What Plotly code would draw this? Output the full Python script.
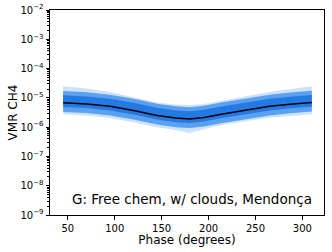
import numpy as np
import plotly.graph_objects as go

# Phase nodes (degrees)
phase = [45, 70, 95, 120, 145, 165, 180, 195, 215, 240, 265, 290, 310]

# log10 VMR CH4 values
log_median = [-5.17, -5.21, -5.29, -5.43, -5.60, -5.69, -5.72, -5.67, -5.55, -5.41, -5.29, -5.21, -5.16]
log_1s_hi = [-4.91, -4.95, -5.03, -5.17, -5.34, -5.43, -5.46, -5.41, -5.29, -5.15, -5.03, -4.95, -4.90]
log_1s_lo = [-5.31, -5.35, -5.43, -5.57, -5.74, -5.83, -5.86, -5.81, -5.69, -5.55, -5.43, -5.35, -5.30]
log_2s_hi = [-4.77, -4.81, -4.89, -5.03, -5.20, -5.29, -5.32, -5.27, -5.15, -5.01, -4.89, -4.81, -4.76]
log_2s_lo = [-5.48, -5.52, -5.60, -5.74, -5.91, -6.00, -6.03, -5.98, -5.86, -5.72, -5.60, -5.52, -5.47]
log_3s_hi = [-4.60, -4.68, -4.80, -4.97, -5.16, -5.23, -5.24, -5.21, -5.09, -4.93, -4.80, -4.69, -4.60]
log_3s_lo = [-5.56, -5.60, -5.69, -5.83, -6.00, -6.10, -6.21, -6.06, -5.93, -5.79, -5.68, -5.61, -5.56]

y_tick_vals = [1e-9, 1e-8, 1e-7, 1e-6, 1e-5, 1e-4, 1e-3, 1e-2]
y_tick_text = ["10<sup>\u22129</sup>", "10<sup>\u22128</sup>", "10<sup>\u22127</sup>", "10<sup>\u22126</sup>",
               "10<sup>\u22125</sup>", "10<sup>\u22124</sup>", "10<sup>\u22123</sup>", "10<sup>\u22122</sup>"]
x_tick_vals = [50, 100, 150, 200, 250, 300]

def v(a):
    return [10 ** x for x in a]

fig = go.Figure()

bands = [
    (log_3s_hi, log_3s_lo, "rgb(204,225,250)"),
    (log_2s_hi, log_2s_lo, "rgb(92,160,240)"),
    (log_1s_hi, log_1s_lo, "rgb(36,122,228)"),
]
for hi, lo, col in bands:
    fig.add_trace(go.Scatter(x=phase, y=v(hi), mode="lines", line=dict(width=0, color=col),
                             showlegend=False, hoverinfo="skip"))
    fig.add_trace(go.Scatter(x=phase, y=v(lo), mode="lines", line=dict(width=0, color=col),
                             fill="tonexty", fillcolor=col, showlegend=False, hoverinfo="skip"))

fig.add_trace(go.Scatter(x=phase, y=v(log_median), mode="lines",
                         line=dict(color="black", width=1.5), showlegend=False))

tick_font = dict(family="DejaVu Sans", size=10, color="black")
title_font = dict(family="DejaVu Sans", size=12, color="black")

fig.update_layout(
    width=332, height=252,
    margin=dict(l=50, r=8, t=10, b=37),
    paper_bgcolor="white", plot_bgcolor="white",
    font=tick_font,
    xaxis=dict(
        range=[31, 323], tickvals=x_tick_vals, ticks="outside", ticklen=3.5,
        tickcolor="black", showline=True, linecolor="black", linewidth=1, mirror=True,
        showgrid=False, zeroline=False, automargin=False,
        title=dict(text="Phase (degrees)", font=title_font, standoff=0),
        tickfont=tick_font,
    ),
    yaxis=dict(
        type="log", range=[-9, -2], tickvals=y_tick_vals, ticktext=y_tick_text,
        ticks="outside", ticklen=3.5,
        tickcolor="black", showline=True, linecolor="black", linewidth=1, mirror=True,
        showgrid=False, zeroline=False, automargin=False,
        minor=dict(ticks="outside", ticklen=2, tickcolor="black", dtick="D1", showgrid=False),
        title=dict(text="VMR CH4", font=title_font, standoff=0),
        tickfont=tick_font,
    ),
    annotations=[dict(
        text="G: Free chem, w/ clouds, Mendonça", xref="paper", yref="paper",
        x=0.9635, y=0.078, xanchor="right", yanchor="middle", showarrow=False,
        font=dict(family="DejaVu Sans", size=13.5, color="black"),
    )],
)

fig.write_html(
    "out.html",
    config={"displayModeBar": False},
    post_script="document.body.style.margin='0';document.body.style.overflow='hidden';",
)
